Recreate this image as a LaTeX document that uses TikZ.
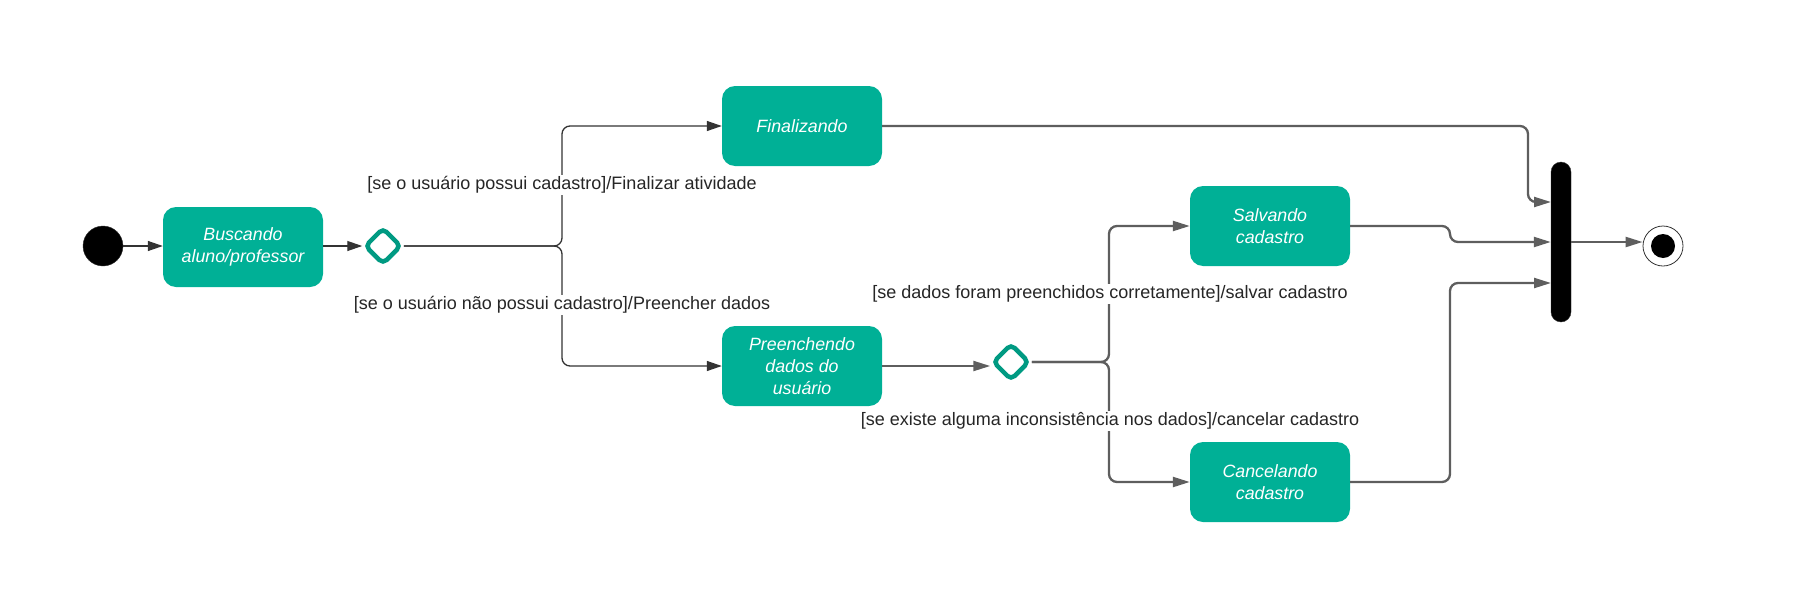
\documentclass[tikz,border=0pt]{standalone}
\usepackage{fontspec}
\setmainfont{Liberation Sans}
\usetikzlibrary{shapes.geometric, arrows.meta}

\definecolor{stateteal}{HTML}{00B096}
\definecolor{choiceteal}{HTML}{009A82}
\definecolor{darkline}{HTML}{333333}
\definecolor{greyline}{HTML}{5E5E5E}
\definecolor{guardtext}{HTML}{262626}

\tikzset{
  state/.style={rectangle, rounded corners=13pt, fill=stateteal, text=white,
    minimum width=160pt, minimum height=80pt, align=center,
    font=\fontsize{17.8}{22}\selectfont\itshape},
  choice/.style={diamond, draw=choiceteal, line width=4.5pt, rounded corners=5pt,
    minimum width=37pt, minimum height=37pt, inner sep=0pt},
  guard/.style={fill=white, text=guardtext, inner sep=2pt,
    font=\fontsize{18}{22}\selectfont},
  thinflow/.style={draw=darkline, line width=1.3pt, rounded corners=8pt,
    -{Triangle[length=15pt,width=10pt]}},
  flow/.style={draw=greyline, line width=2.3pt, rounded corners=8pt,
    -{Triangle[length=17pt,width=10pt]}}
}

\begin{document}
\begin{tikzpicture}[x=1pt, y=-1pt]
  \useasboundingbox (0,0) rectangle (1816,600);

  % Start and end
  \node[circle, fill=black, draw=darkline, minimum size=40pt, inner sep=0pt] (start) at (103,246) {};
  \node[circle, draw=darkline, line width=0.8pt, minimum size=40pt, inner sep=0pt] (final) at (1663,246) {};
  \fill (final.center) circle (12pt);

  % States
  \node[state] (busca) at (243,247) {Buscando\\aluno/professor};
  \node[state] (finaliza) at (802,126) {Finalizando};
  \node[state] (preenche) at (802,366) {Preenchendo\\dados do\\usuário};
  \node[state] (salva) at (1270,226) {Salvando\\cadastro};
  \node[state] (cancela) at (1270,482) {Cancelando\\cadastro};

  % Choices
  \node[choice] (usuario) at (383,246) {};
  \node[choice] (dados) at (1011,362) {};

  % Join bar
  \node[rectangle, fill=black, draw=darkline, rounded corners=10pt,
        minimum width=20pt, minimum height=160pt] (join) at (1561,242) {};

  \coordinate (forkA) at (562,246);
  \coordinate (forkB) at (1109,362);
  \coordinate (joinA) at (1551,202);
  \coordinate (joinC) at (1551,283);

  % Transitions
  \draw[thinflow] (start) -- (busca.west |- start);
  \draw[thinflow] (busca.east |- usuario) -- (usuario);
  \draw[thinflow] (usuario.east) -- (forkA) |- (finaliza.west);
  \draw[thinflow] (usuario.east) -- (forkA) |- (preenche.west);
  \draw[flow] (preenche.east) -- (preenche.east -| dados.west);
  \draw[flow] (dados.east) -- (forkB) |- (salva.west);
  \draw[flow] (dados.east) -- (forkB) |- (cancela.west);
  \draw[flow] (finaliza.east) -| ([xshift=-23pt]joinA) -- (joinA);
  \draw[flow] (salva.east) -- (1450,226) -- (1450,242) -- (join.west);
  \draw[flow] (cancela.east) -| ([xshift=-101pt]joinC) -- (joinC);
  \draw[flow] (join.east) -- (join.east -| final.west);

  % Guards
  \node[guard] (g1) at (562,185) {[se o usuário possui cadastro]/Finalizar atividade};
  \node[guard] (g2) at (562,305) {[se o usuário não possui cadastro]/Preencher dados};
  \node[guard] (g3) at (1110,294) {[se dados foram preenchidos corretamente]/salvar cadastro};
  \node[guard] (g4) at (1110,421) {[se existe alguma inconsistência nos dados]/cancelar cadastro};
\end{tikzpicture}
\end{document}
